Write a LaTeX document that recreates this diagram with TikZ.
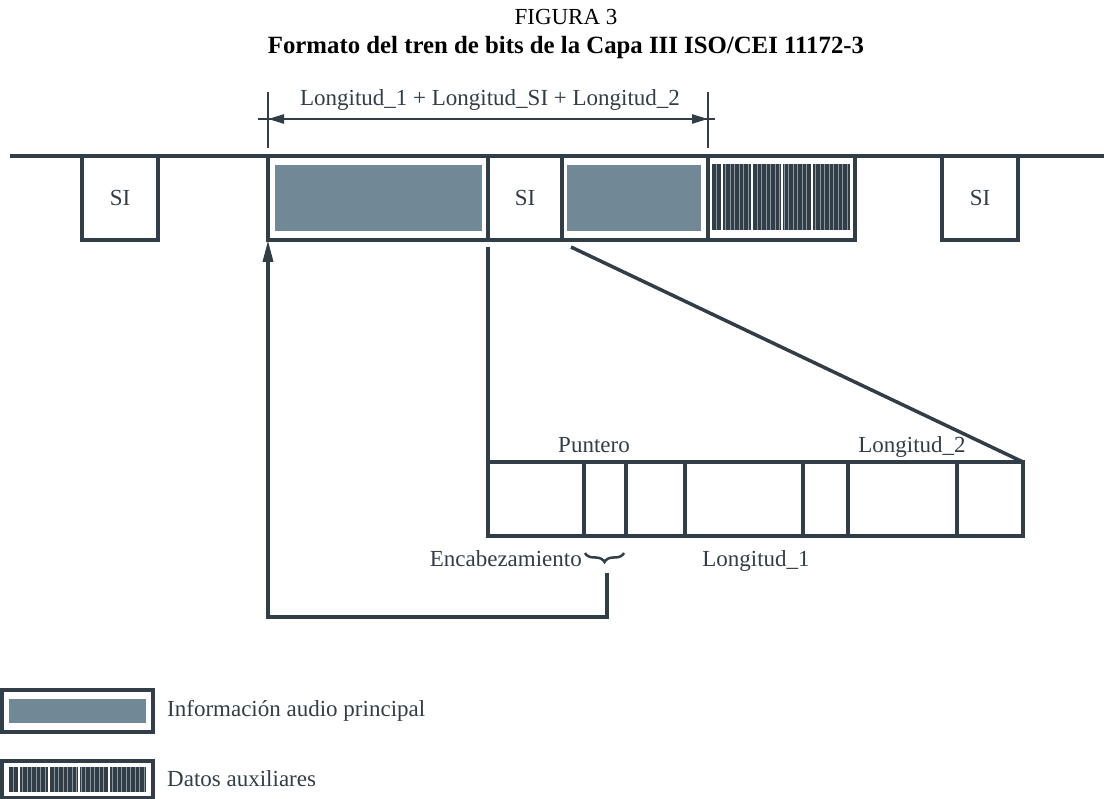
\documentclass[tikz,border=0pt]{standalone}
\usepackage{fontspec}
\setmainfont{Liberation Serif}
\usetikzlibrary{arrows.meta,decorations.pathreplacing}
\definecolor{ink}{RGB}{50,62,71}
\definecolor{audio}{RGB}{113,136,150}
\definecolor{hatchline}{RGB}{140,150,158}
\tikzset{
  lbl/.style={font=\fontsize{23}{27}\selectfont, text=ink, inner sep=0pt},
  ttl/.style={font=\fontsize{23}{27}\selectfont, text=black, inner sep=0pt},
  stream/.style={draw=ink, line width=4.5pt},
  thinline/.style={draw=ink, line width=3.5pt},
  dimline/.style={draw=ink, line width=2.5pt},
  sibox/.style={draw=ink, line width=4.5pt, minimum width=76pt, minimum height=84pt,
    inner sep=0pt, outer sep=0pt, font=\fontsize{23}{27}\selectfont, text=ink},
  framebox/.style={draw=ink, line width=4.5pt, inner sep=0pt, outer sep=0pt},
  hdrbox/.style={draw=ink, line width=3.5pt, inner sep=0pt, outer sep=0pt},
  legbox/.style={draw=ink, line width=4pt, inner sep=0pt, outer sep=0pt},
  tip/.style={-{Triangle[length=22pt,width=10pt]}},
}
\newcommand{\auxfill}[4]{%
  \fill[ink] (#1,#2) rectangle (#3,#4);
  \pgfmathtruncatemacro{\auxN}{(#3-#1)/4.5}%
  \foreach \i in {1,...,\auxN}{\draw[hatchline,line width=0.6pt] ({#1+\i*4.5},#2) -- ({#1+\i*4.5},#4);}
  \pgfmathtruncatemacro{\auxW}{(#3-#1)/30}%
  \foreach \i in {1,...,\auxW}{\draw[white,line width=1.6pt] ({#1+\i*30-20},#2) -- ({#1+\i*30-20},#4);}
}
\begin{document}
\begin{tikzpicture}[x=1pt,y=-1pt]
\useasboundingbox (0,0) rectangle (1104,799);
% titles
\node[ttl, anchor=base] (fig) at (566,25) {FIGURA 3};
\node[ttl, font=\bfseries\fontsize{24.8}{28}\selectfont, anchor=base] (title) at (566,54)
  {Formato del tren de bits de la Capa III ISO/CEI 11172-3};
% bit stream line
\coordinate (lineL) at (10,156);
\coordinate (lineR) at (1104,156);
\draw[stream] (lineL) -- (lineR);
% SI boxes
\node[sibox] (si1) at (120,198) {SI};
\node[sibox] (si3) at (980,198) {SI};
% frame
\fill[audio] (275,165) rectangle (482,231);
\fill[audio] (567,165) rectangle (701,231);
\auxfill{712}{164}{850}{230}
\node[framebox, minimum width=587pt, minimum height=84pt] (frame) at (561.5,198) {};
\node[lbl] (si2) at (525,198) {SI};
\draw[stream] (488,156) -- (488,240);
\draw[stream] (562,156) -- (562,240);
\draw[stream] (708,156) -- (708,240);
% dimension
\coordinate (dimA) at (268,92);
\coordinate (dimB) at (708,92);
\draw[dimline] (dimA) -- ++(0,56);
\draw[dimline] (dimB) -- ++(0,56);
\draw[dimline] (258,119) -- (715,119);
\draw[dimline, {Triangle[length=16pt,width=9pt]}-{Triangle[length=16pt,width=9pt]}] (268,119) -- (708,119);
\node[lbl, anchor=base] (dimlbl) at (490,106) {Longitud\_1 + Longitud\_SI + Longitud\_2};
% header detail
\node[hdrbox, minimum width=535pt, minimum height=74pt] (hdr) at (755.5,499) {};
\foreach \xx in {584,626,685,803,848,957}{\draw[thinline] (\xx,462) -- (\xx,536);}
\coordinate (siL) at (488,247);
\coordinate (siR) at (571,247);
\draw[thinline] (siL) -- (hdr.north west);
\draw[thinline] (siR) -- (hdr.north east);
\node[lbl, anchor=base] (punt) at (594,453) {Puntero};
\node[lbl, anchor=base] (l2) at (912,453) {Longitud\_2};
\node[lbl, anchor=base east] (enc) at (582,566) {Encabezamiento};
\node[lbl, anchor=base] (l1) at (756,566) {Longitud\_1};
\draw[ink, line width=2.5pt, decorate, decoration={brace, mirror, amplitude=9pt}]
  (585,553) -- (624,553);
\coordinate (brtip) at (607,573);
\draw[thinline, tip] (brtip) |- (268,617) -- (frame.south west);
% legend
\fill[audio] (9,699) rectangle (146,723);
\node[legbox, minimum width=151pt, minimum height=42pt] (leg1) at (77.5,711) {};
\node[lbl, anchor=west] (leg1t) at (167,711) {Información audio principal};
\auxfill{9}{767}{146}{792}
\node[legbox, minimum width=151pt, minimum height=37pt] (leg2) at (77.5,779) {};
\node[lbl, anchor=west] (leg2t) at (167,779) {Datos auxiliares};
\end{tikzpicture}
\end{document}
